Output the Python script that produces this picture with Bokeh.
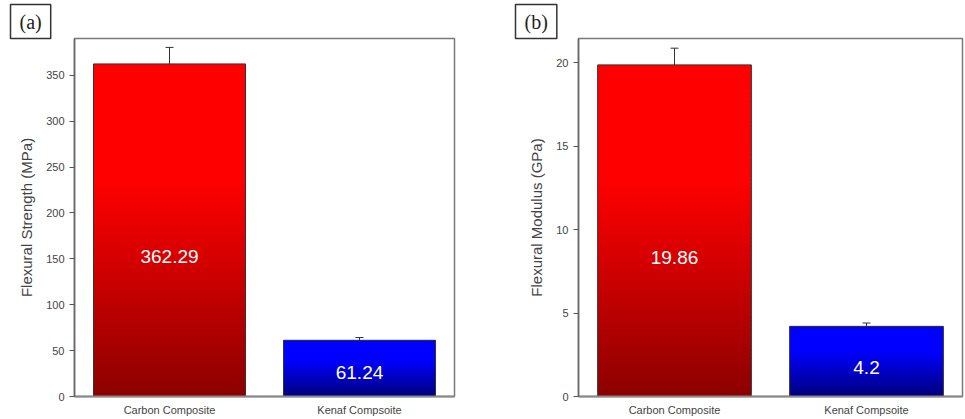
from bokeh.plotting import figure
from bokeh.layouts import row
from bokeh.models import Title, Whisker, TeeHead, ColumnDataSource, FixedTicker, Range1d, FactorRange
from bokeh.core.properties import value
from bokeh.embed import file_html
from bokeh.resources import INLINE

# ---- data ----
categories = ["Carbon Composite", "Kenaf Compsoite"]
strength = [362.29, 61.24]
strength_err = [18.0, 3.0]
modulus = [19.86, 4.2]
modulus_err = [1.0, 0.2]
strength_labels = ["362.29", "61.24"]
modulus_labels = ["19.86", "4.2"]
strength_ticks = [0, 50, 100, 150, 200, 250, 300, 350]
modulus_ticks = [0, 5, 10, 15, 20]

# ---- style ----
HI = [(255, 0, 0), (0, 0, 255)]
LO = [(140, 0, 0), (0, 0, 125)]
NSEG = 80
SANS = "Liberation Sans"


def hexc(c):
    return "#%02x%02x%02x" % tuple(int(round(v)) for v in c)


def make_panel(vals, errs, labels, ticks, ymax, ylabel, tag, width, bl, br, tag_off):
    p = figure(x_range=FactorRange(factors=categories), y_range=Range1d(0, ymax),
               width=width, height=419, output_backend="svg", toolbar_location=None,
               min_border_left=bl, min_border_right=br, min_border_top=38, min_border_bottom=23)
    p.background_fill_color = "white"
    p.border_fill_color = "white"
    p.outline_line_color = "#7a7a7a"
    p.outline_line_width = 1.5
    p.xgrid.visible = False
    p.ygrid.visible = False

    # gradient bars built from overlapping slices of each bar
    xs, bots, tops, cols = [], [], [], []
    for i, (c, v) in enumerate(zip(categories, vals)):
        for k in range(NSEG):
            t0 = k / NSEG
            t1 = (k + 1) / NSEG
            tm = (t0 + t1) / 2
            f = min(1.0, tm / 0.65)
            col = tuple(LO[i][j] + (HI[i][j] - LO[i][j]) * f for j in range(3))
            xs.append(c)
            bots.append(v * t0)
            tops.append(v * min(1.0, t1 + 1.5 / NSEG))
            cols.append(hexc(col))
    p.vbar(x=xs, bottom=bots, top=tops, width=0.8, fill_color=cols, line_color=None)
    p.vbar(x=categories, top=vals, bottom=0, width=0.8, fill_color=None,
           line_color="#333333", line_width=1)

    src = ColumnDataSource(dict(x=categories,
                                upper=[v + e for v, e in zip(vals, errs)],
                                lower=[v - e for v, e in zip(vals, errs)]))
    w = Whisker(base="x", upper="upper", lower="lower", source=src,
                line_color="#333333", line_width=1,
                upper_head=TeeHead(size=8, line_color="#333333", line_width=1),
                lower_head=TeeHead(size=8, line_color="#333333", line_width=1))
    p.add_layout(w)

    p.text(x=categories, y=[v * 0.42 for v in vals], text=labels,
           text_color="white", text_font=value(SANS), text_font_size="19px",
           text_align="center", text_baseline="middle")

    p.yaxis.ticker = FixedTicker(ticks=ticks)
    p.yaxis.minor_tick_line_color = None
    p.yaxis.major_tick_in = 0
    p.yaxis.major_tick_out = 5
    p.yaxis.major_tick_line_color = "#555555"
    p.yaxis.axis_line_color = "#666666"
    p.yaxis.axis_line_width = 1.5
    p.yaxis.major_label_text_font = SANS
    p.yaxis.major_label_text_font_size = "11px"
    p.yaxis.major_label_text_color = "#444444"
    p.yaxis.major_label_standoff = 5
    p.yaxis.axis_label = ylabel
    p.yaxis.axis_label_text_font = SANS
    p.yaxis.axis_label_text_font_style = "normal"
    p.yaxis.axis_label_text_font_size = "15px"
    p.yaxis.axis_label_text_color = "#444444"
    p.yaxis.axis_label_standoff = 8

    p.xaxis.major_tick_line_color = None
    p.xaxis.minor_tick_line_color = None
    p.xaxis.major_tick_out = 0
    p.xaxis.major_tick_in = 0
    p.xaxis.axis_line_color = "#888888"
    p.xaxis.axis_line_width = 2
    p.xaxis.major_label_text_font = SANS
    p.xaxis.major_label_text_font_size = "11px"
    p.xaxis.major_label_text_color = "#444444"
    p.xaxis.major_label_standoff = 7

    t = Title(text=tag, align="left", offset=tag_off, standoff=0,
              text_font="Liberation Serif", text_font_size="20px", text_font_style="normal",
              text_color="#222222",
              border_line_color="#333333", border_line_width=1.5,
              background_fill_color="white", padding=(9, 6))
    p.add_layout(t, "above")
    return p


pa = make_panel(strength, strength_err, strength_labels, strength_ticks, 390,
                "Flexural Strength (MPa)", "(a)", 480, 74, 26, -64)
pb = make_panel(modulus, modulus_err, modulus_labels, modulus_ticks, 21.44,
                "Flexural Modulus (GPa)", "(b)", 485, 98, 3, -63)

layout = row(pa, pb)
open("out.html", "w").write(file_html(layout, INLINE))
